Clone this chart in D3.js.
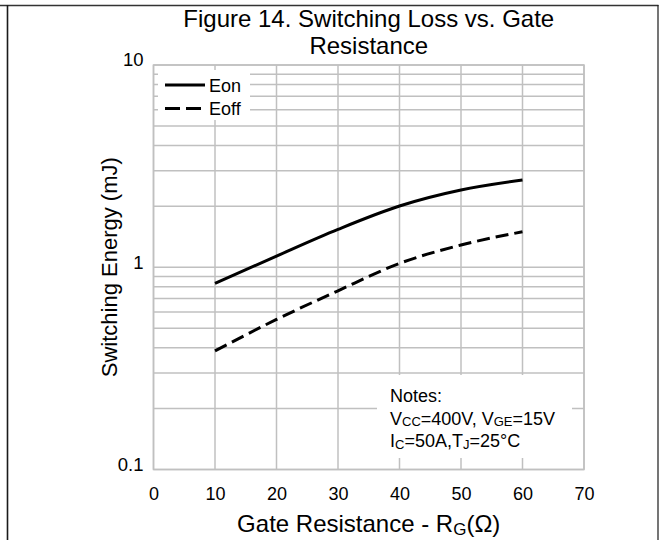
<!DOCTYPE html>
<html><head><meta charset="utf-8">
<script src="https://cdn.jsdelivr.net/npm/d3@7"></script>
<style>body{margin:0;background:#fff}svg{display:block;font-family:"Liberation Sans",Arial,sans-serif}</style>
</head><body>
<svg id="c" width="659" height="540"></svg>
<script>
const resistance = [10, 20, 30, 40, 50, 60];
const eon  = [0.832, 1.136, 1.539, 2.008, 2.409, 2.70];
const eoff = [0.386, 0.552, 0.765, 1.045, 1.288, 1.498];
const xTicks = [0, 10, 20, 30, 40, 50, 60, 70];
const yTicks = [0.1, 1, 10];
const yTickLabels = ["0.1", "1", "10"];
const seriesNames = ["Eon", "Eoff"];

const FF = "Liberation Sans, Arial, sans-serif";
const svg = d3.select("#c");
const W = 659, H = 540;
const m = {l: 153.5, r: 584, t: 65, b: 469.5};
const x = d3.scaleLinear().domain([0, 70]).range([m.l, m.r]);
const y = d3.scaleLog().domain([0.1, 10]).range([m.b, m.t]);

// outer frame
svg.append("line").attr("x1",0).attr("x2",658.5).attr("y1",5.5).attr("y2",5.5).attr("stroke","#333").attr("stroke-width",1.3);
svg.append("line").attr("x1",7.5).attr("x2",7.5).attr("y1",5).attr("y2",H).attr("stroke","#1a1a1a").attr("stroke-width",1.6);
svg.append("line").attr("x1",658).attr("x2",658).attr("y1",5).attr("y2",H).attr("stroke","#1a1a1a").attr("stroke-width",1.2);

const grid = svg.append("g").attr("stroke","#c0c0c0").attr("stroke-width",1.5);
const minor = [];
[0.1, 1].forEach(d => { for (let k = 1; k <= 9; k++) minor.push(d * k); });
minor.push(10);
grid.selectAll("line.h").data(minor).join("line").attr("class","h")
  .attr("x1", m.l).attr("x2", m.r).attr("y1", d => y(d)).attr("y2", d => y(d));
grid.selectAll("line.v").data(xTicks).join("line").attr("class","v")
  .attr("y1", m.t).attr("y2", m.b).attr("x1", d => x(d)).attr("x2", d => x(d));
grid.append("rect").attr("x", m.l).attr("y", m.t).attr("width", m.r - m.l).attr("height", m.b - m.t).attr("fill","none");

// axes labels
const xAxis = d3.axisBottom(x).tickValues(xTicks).tickSize(0).tickPadding(0);
const gx = svg.append("g").attr("transform", `translate(0,${m.b + 30.5})`).call(xAxis);
gx.select(".domain").remove();
gx.attr("font-family", FF);
gx.selectAll("text").attr("font-size", 18).attr("fill","#000").attr("dy", 0);

const yAxis = d3.axisLeft(y).tickValues(yTicks).tickFormat((d,i) => yTickLabels[i]).tickSize(0).tickPadding(0);
const gy = svg.append("g").attr("transform", `translate(${m.l - 10},0)`).call(yAxis);
gy.select(".domain").remove();
gy.attr("font-family", FF);
gy.selectAll("text").attr("font-size", 18.5).attr("fill","#000").attr("dy", "0.05em");

// curves
const line = d3.line().x(d => x(d[0])).y(d => y(d[1])).curve(d3.curveMonotoneX);
const data = [eon, eoff].map(s => resistance.map((r, i) => [r, s[i]]));
svg.append("path").datum(data[0]).attr("d", line).attr("fill","none").attr("stroke","#000").attr("stroke-width",3);
svg.append("path").datum(data[1]).attr("d", line).attr("fill","none").attr("stroke","#000").attr("stroke-width",3).attr("stroke-dasharray","13,6");

// legend
const lg = svg.append("g");
lg.append("rect").attr("x",158).attr("y",70).attr("width",92).attr("height",50).attr("fill","#fff");
seriesNames.forEach((n, i) => {
  const yy = 85 + i * 23.5;
  lg.append("line").attr("x1",165).attr("x2",205).attr("y1",yy).attr("y2",yy).attr("stroke","#000").attr("stroke-width",3)
    .attr("stroke-dasharray", i ? "15,6" : null);
  lg.append("text").attr("x",209).attr("y",yy + 6.5).attr("font-size",18).text(n);
});

// notes box
const nb = svg.append("g");
nb.append("rect").attr("x",377).attr("y",375).attr("width",195).attr("height",83).attr("fill","#fff");
const t1 = nb.append("text").attr("x",390).attr("y",401.5).attr("font-size",18);
t1.text("Notes:");
const t2 = nb.append("text").attr("x",390).attr("y",424.5).attr("font-size",18);
t2.append("tspan").text("V");
t2.append("tspan").attr("font-size",13).attr("dy",1.5).text("CC");
t2.append("tspan").attr("dy",-1.5).text("=400V, V");
t2.append("tspan").attr("font-size",13).attr("dy",1.5).text("GE");
t2.append("tspan").attr("dy",-1.5).text("=15V");
const t3 = nb.append("text").attr("x",390).attr("y",447).attr("font-size",18);
t3.append("tspan").text("I");
t3.append("tspan").attr("font-size",13).attr("dy",1.5).text("C");
t3.append("tspan").attr("dy",-1.5).text("=50A,T");
t3.append("tspan").attr("font-size",13).attr("dy",1.5).text("J");
t3.append("tspan").attr("dy",-1.5).text("=25°C");

// title
const cx = (m.l + m.r) / 2;
svg.append("text").attr("x",cx).attr("y",27).attr("text-anchor","middle").attr("font-size",24).text("Figure 14. Switching Loss vs. Gate");
svg.append("text").attr("x",cx).attr("y",54).attr("text-anchor","middle").attr("font-size",24).text("Resistance");

// axis titles
const xt = svg.append("text").attr("x",cx).attr("y",532).attr("text-anchor","middle").attr("font-size",24);
xt.append("tspan").text("Gate Resistance - R");
xt.append("tspan").attr("font-size",17).attr("dy",2.5).text("G");
xt.append("tspan").attr("dy",-2.5).text("(Ω)");
svg.append("text").attr("transform",`translate(117,${(m.t+m.b)/2}) rotate(-90)`).attr("text-anchor","middle").attr("font-size",22).text("Switching Energy (mJ)");
</script>
</body></html>
